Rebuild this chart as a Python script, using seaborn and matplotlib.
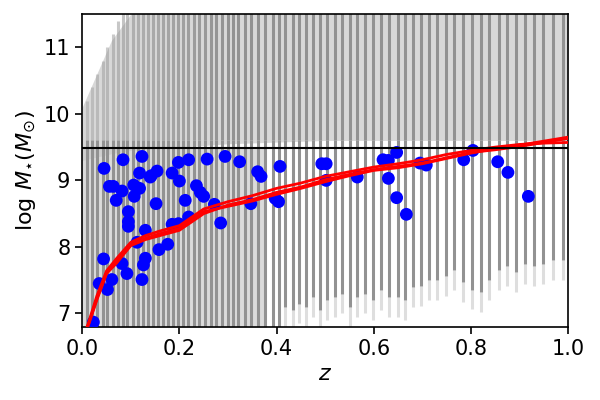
import numpy as np
import pandas as pd
import seaborn as sns
import matplotlib
matplotlib.use('Agg')
import matplotlib.pyplot as plt

# redshifts of the simulated snapshots (the grey vertical stripes)
snap_z = [0.010, 0.020, 0.030, 0.042, 0.052, 0.063, 0.073, 0.084, 0.093, 0.104,
          0.114, 0.125, 0.135, 0.145, 0.155, 0.166, 0.176, 0.187, 0.198, 0.208,
          0.218, 0.230, 0.241, 0.253, 0.264, 0.276, 0.287, 0.299, 0.310, 0.321,
          0.334, 0.348, 0.362, 0.377, 0.392, 0.405, 0.418, 0.433, 0.447, 0.461,
          0.475, 0.490, 0.504, 0.520, 0.534, 0.550, 0.565, 0.581, 0.598, 0.615,
          0.632, 0.649, 0.665, 0.681, 0.697, 0.714, 0.731, 0.749, 0.766, 0.783,
          0.802, 0.820, 0.838, 0.857, 0.875, 0.893, 0.912, 0.930, 0.949, 0.968,
          0.989]
# lower end of the dense part of each stripe
snap_lo = [6.6] * 36 + [7.1, 7.05, 7.15, 7.1, 7.25, 7.05, 7.2, 7.25, 7.3, 7.1,
                        7.25, 7.3, 7.2, 7.35, 7.25, 7.25, 7.2, 7.4, 7.42, 7.5,
                        7.5, 7.57, 7.65, 7.47, 7.36, 7.32, 7.5, 7.65, 7.72, 7.62,
                        7.75, 7.72, 7.75, 7.8, 7.8]
# upper end of each stripe
snap_hi = [10.2, 10.4, 10.6, 10.8, 11.0, 11.2, 11.4] + [11.6] * 64

# diffuse cloud between the stripes at high mass
haze_z = [0.0, 0.03, 0.06, 0.1, 0.2, 0.3, 0.5, 0.7, 1.0]
haze_lo = [9.3, 9.35, 9.4, 9.45, 9.5, 9.55, 9.6, 9.6, 9.6]
haze_hi = [10.1, 10.6, 11.1, 11.5, 11.6, 11.6, 11.6, 11.6, 11.6]

mass_cut = 9.48

# median stellar mass tracks (red)
track_z = [0.0, 0.013, 0.03, 0.05, 0.07, 0.1, 0.13, 0.16, 0.2, 0.25, 0.3, 0.35, 0.4,
           0.45, 0.5, 0.55, 0.6, 0.65, 0.7, 0.75, 0.8, 0.85, 0.9, 0.95, 1.0]
track_a = [6.6, 6.83, 7.2, 7.6, 7.75, 8.02, 8.11, 8.17, 8.25, 8.5, 8.63, 8.71, 8.82,
           8.9, 9.01, 9.09, 9.16, 9.21, 9.26, 9.34, 9.42, 9.46, 9.51, 9.57, 9.63]
track_b = [6.6, 6.86, 7.26, 7.64, 7.82, 8.07, 8.17, 8.24, 8.32, 8.57, 8.68, 8.77, 8.88,
           8.96, 9.06, 9.13, 9.2, 9.25, 9.31, 9.39, 9.45, 9.5, 9.54, 9.56, 9.57]
track_c = [6.6, 6.84, 7.22, 7.6, 7.78, 8.03, 8.13, 8.2, 8.28, 8.53, 8.61, 8.69, 8.79,
           8.88, 8.98, 9.07, 9.15, 9.19, 9.25, 9.33, 9.41, 9.48, 9.53, 9.59, 9.65]

# observed galaxies (blue)
obs_z = [0.084, 0.123, 0.045, 0.118, 0.142, 0.154, 0.140, 0.198, 0.219, 0.185,
         0.200, 0.056, 0.064, 0.082, 0.106, 0.118, 0.107, 0.070, 0.152, 0.212,
         0.235, 0.243, 0.250, 0.257, 0.095, 0.095, 0.095, 0.130, 0.185, 0.198,
         0.219, 0.113, 0.158, 0.176, 0.044, 0.082, 0.130, 0.126, 0.092, 0.061,
         0.035, 0.052, 0.123, 0.023, 0.294, 0.324, 0.361, 0.368, 0.407, 0.493,
         0.502, 0.502, 0.272, 0.285, 0.347, 0.397, 0.404, 0.566, 0.619, 0.630,
         0.647, 0.630, 0.647, 0.667, 0.695, 0.708, 0.785, 0.804, 0.855, 0.876,
         0.918]
obs_m = [9.31, 9.36, 9.18, 9.11, 9.07, 9.14, 9.05, 9.27, 9.31, 9.11,
         8.99, 8.91, 8.91, 8.84, 8.93, 8.88, 8.76, 8.70, 8.65, 8.70,
         8.92, 8.82, 8.76, 9.32, 8.53, 8.38, 8.31, 8.25, 8.34, 8.35,
         8.45, 8.07, 7.96, 8.04, 7.82, 7.75, 7.83, 7.73, 7.60, 7.51,
         7.45, 7.36, 7.51, 6.87, 9.36, 9.28, 9.13, 9.06, 9.21, 9.25,
         9.25, 9.00, 8.64, 8.36, 8.65, 8.73, 8.68, 9.05, 9.31, 9.30,
         9.42, 9.03, 8.74, 8.49, 9.26, 9.23, 9.31, 9.45, 9.28, 9.12,
         8.76]

sns.set_style('ticks')
plt.rcParams['font.family'] = ['DejaVu Sans']
plt.rcParams['text.color'] = 'black'
plt.rcParams['axes.labelcolor'] = 'black'
plt.rcParams['xtick.color'] = 'black'
plt.rcParams['ytick.color'] = 'black'

fig, ax = plt.subplots(figsize=(6, 4), dpi=100)
fig.subplots_adjust(left=0.137, right=0.947, top=0.965, bottom=0.183)

stripe_col = '#929292'

# grey cloud
ax.fill_between(haze_z, haze_lo, haze_hi, color='#c8c8c8', alpha=0.7, lw=0, zorder=1)
ax.fill_between([0.0, 0.38], [6.6, 6.6], [9.5, 9.5], color='#cccccc', alpha=0.7, lw=0, zorder=1)

snaps = pd.DataFrame({'z': snap_z, 'lo': snap_lo, 'hi': snap_hi})
tails = snaps[snaps['lo'] > 6.8]
ax.vlines(tails['z'], tails['lo'] - 0.3, tails['lo'], color=stripe_col, alpha=0.3, lw=2.2, zorder=2)
ax.vlines(snaps['z'], snaps['lo'], 9.6, color=stripe_col, lw=2.2, zorder=2)
for z, hi in zip(snaps['z'], snaps['hi']):
    a = 0.35 + 0.65 * min(z / 0.3, 1.0)
    ax.vlines(z, 9.6, hi, color=stripe_col, alpha=a, lw=2.2, zorder=2)

sns.scatterplot(x=obs_z, y=obs_m, color='blue', s=85, edgecolor='none', ax=ax, zorder=3)

for track in [track_a, track_b, track_c]:
    sns.lineplot(x=track_z, y=track, color='red', lw=2.0, sort=False, estimator=None,
                 ax=ax, zorder=4)

ax.axhline(mass_cut, color='black', lw=1.5, zorder=5)

ax.set_xlim(0, 1)
ax.set_ylim(6.8, 11.5)
ax.set_xticks([0.0, 0.2, 0.4, 0.6, 0.8, 1.0])
ax.set_yticks([7, 8, 9, 10, 11])
ax.tick_params(labelsize=15, direction='out', length=5, width=1.2, color='black')
for s in ax.spines.values():
    s.set_visible(True)
    s.set_color('black')
    s.set_linewidth(1.2)
ax.set_xlabel('$z$', fontsize=16)
ax.set_ylabel(r'$\log\,M_{\star}(M_{\odot})$', fontsize=16)

fig.savefig('out.png', dpi=100)
